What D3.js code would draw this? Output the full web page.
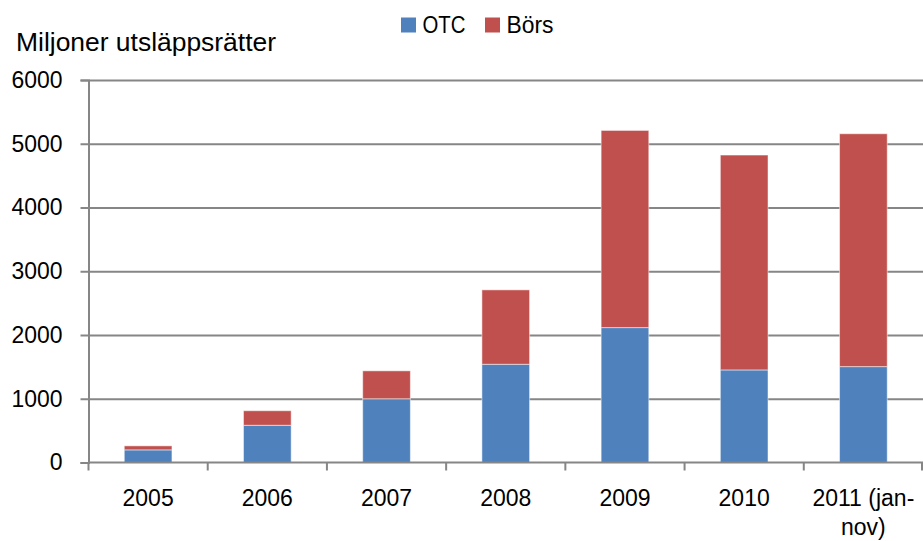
<!DOCTYPE html>
<html>
<head>
<meta charset="utf-8">
<script src="https://cdn.jsdelivr.net/npm/d3@7"></script>
<style>
  body { margin: 0; background: #fff; }
  svg text { font-family: "Liberation Sans", Arial, sans-serif; fill: #000; }
</style>
</head>
<body>
<svg id="chart" width="923" height="541"></svg>
<script>
// data
const years = ["2005", "2006", "2007", "2008", "2009", "2010", "2011 (jan-nov)"];
const otc = [198, 584, 1000, 1541, 2116, 1452, 1504];
const bors = [63, 228, 438, 1167, 3093, 3371, 3653];
const yTicks = [0, 1000, 2000, 3000, 4000, 5000, 6000];
const seriesNames = ["OTC", "Börs"];
const colors = ["#4F81BD", "#C0504D"];

const svg = d3.select("#chart");
const mLeft = 88.5, mRight = 923, mTop = 80, mBottom = 462.5;

const x = d3.scaleBand().domain(years).range([mLeft, mRight]).paddingInner(0.6).paddingOuter(0.3);
const xEdge = d3.scaleBand().domain(years).range([mLeft, mRight]).padding(0);
const y = d3.scaleLinear().domain([0, 6000]).range([mBottom, mTop]);

// gridlines + y axis
const yAxis = d3.axisLeft(y).tickValues(yTicks).tickSize(8).tickPadding(18).tickFormat(d3.format("d"));
const gy = svg.append("g").attr("transform", `translate(${mLeft},0)`).call(yAxis);
gy.select(".domain").attr("stroke", "#868686").attr("stroke-width", 2);
gy.selectAll(".tick line").attr("stroke", "#868686").attr("stroke-width", 2);
gy.selectAll(".tick text").attr("font-size", 23).attr("textLength", 51).attr("lengthAdjust", "spacingAndGlyphs");
gy.selectAll(".tick").filter(d => d > 0).append("line")
  .attr("x1", 0).attr("x2", mRight - mLeft).attr("stroke", "#868686").attr("stroke-width", 2);
gy.selectAll(".tick").filter(d => d === 0).select("text").attr("textLength", null);

// stacked bars
const rows = years.map((yr, i) => ({ year: yr, OTC: otc[i], "Börs": bors[i] }));
const stack = d3.stack().keys(seriesNames)(rows);
svg.append("g").selectAll("g").data(stack).join("g")
  .attr("fill", (d, i) => colors[i])
  .selectAll("rect").data(d => d).join("rect")
  .attr("x", d => x(d.data.year))
  .attr("width", x.bandwidth())
  .attr("y", d => y(d[1]))
  .attr("height", d => y(d[0]) - y(d[1]))
  .attr("stroke", "#fff").attr("stroke-opacity", 0.5).attr("stroke-width", 1);

// x axis
const gx = svg.append("g").attr("transform", `translate(0,${mBottom})`);
gx.append("line").attr("x1", mLeft).attr("x2", mRight).attr("stroke", "#868686").attr("stroke-width", 2);
const edges = years.map(d => xEdge(d)).concat([mRight - 1]);
gx.selectAll("line.tk").data(edges).join("line").attr("class", "tk")
  .attr("x1", d => d).attr("x2", d => d).attr("y1", 0).attr("y2", 8)
  .attr("stroke", "#868686").attr("stroke-width", 2);
const labels = gx.selectAll("text").data(years).join("text")
  .attr("x", d => xEdge(d) + xEdge.bandwidth() / 2)
  .attr("y", 43)
  .attr("text-anchor", "middle")
  .attr("font-size", 23);
labels.each(function(d) {
  const parts = d === "2011 (jan-nov)" ? ["2011 (jan-", "nov)"] : [d];
  const t = d3.select(this);
  parts.forEach((p, i) => {
    t.append("tspan").attr("x", xEdge(d) + xEdge.bandwidth() / 2).attr("dy", i ? 29.5 : 0).text(p);
  });
});

// title
svg.append("text").attr("x", 16).attr("y", 51).attr("font-size", 25)
  .attr("textLength", 260).attr("lengthAdjust", "spacingAndGlyphs").text("Miljoner utsläppsrätter");

// legend
const legend = svg.append("g");
const legX = [401, 485];
const legW = [43, 47];
seriesNames.forEach((n, i) => {
  legend.append("rect").attr("x", legX[i]).attr("y", 17.5).attr("width", 15).attr("height", 15).attr("fill", colors[i]);
  legend.append("text").attr("x", legX[i] + 21.5).attr("y", 32.7).attr("font-size", 23)
    .attr("textLength", legW[i]).attr("lengthAdjust", "spacingAndGlyphs").text(n);
});
</script>
</body>
</html>
